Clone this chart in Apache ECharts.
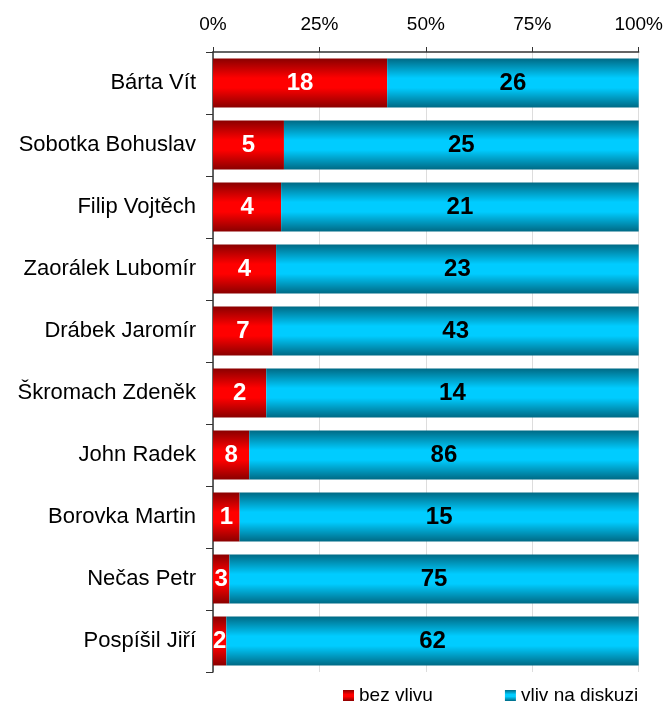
<!DOCTYPE html>
<html>
<head>
<meta charset="utf-8">
<script src="https://cdn.jsdelivr.net/npm/echarts@6/dist/echarts.min.js"></script>
<style>
  html, body { margin: 0; padding: 0; background: #fff; }
  #chart { width: 666px; height: 701px; }
</style>
</head>
<body>
<div id="chart"></div>
<script>
var categories = ['Bárta Vít', 'Sobotka Bohuslav', 'Filip Vojtěch', 'Zaorálek Lubomír', 'Drábek Jaromír',
  'Škromach Zdeněk', 'John Radek', 'Borovka Martin', 'Nečas Petr', 'Pospíšil Jiří']
var bezVlivu = [18, 5, 4, 4, 7, 2, 8, 1, 3, 2]
var vlivNaDiskuzi = [26, 25, 21, 23, 43, 14, 86, 15, 75, 62]
var tickLabels = ['0%', '25%', '50%', '75%', '100%']

// percent share of each row, the labels keep the raw counts
function share(arr) {
  return arr.map(function (v, i) {
    return { value: v / (bezVlivu[i] + vlivNaDiskuzi[i]) * 100, raw: v }
  })
}

function grad(edge, mid) {
  return new echarts.graphic.LinearGradient(0, 0, 0, 1, [
    { offset: 0, color: edge },
    { offset: 0.4, color: mid },
    { offset: 0.6, color: mid },
    { offset: 1, color: edge }
  ])
}

var chart = echarts.init(document.getElementById('chart'))
chart.setOption({
  animation: false,
  textStyle: { fontFamily: 'Liberation Sans, Arial, sans-serif' },
  grid: { left: 213, right: 26, top: 52, bottom: 29, containLabel: false },
  legend: {
    top: 681,
    left: 338,
    itemGap: 72,
    itemWidth: 11,
    itemHeight: 11,
    icon: 'rect',
    textStyle: { fontSize: 19, color: '#000' },
    data: ['bez vlivu', 'vliv na diskuzi']
  },
  xAxis: {
    type: 'value',
    position: 'top',
    min: 0,
    max: 100,
    interval: 25,
    axisLine: { show: true, lineStyle: { color: '#333', width: 1.5 } },
    axisTick: { show: true, length: 5, lineStyle: { color: '#333' } },
    splitLine: { show: true, lineStyle: { color: '#ddd' } },
    axisLabel: {
      fontSize: 19, color: '#000', margin: 18,
      formatter: function (v) { return tickLabels[v / 25] }
    }
  },
  yAxis: {
    type: 'category',
    inverse: true,
    data: categories,
    axisLine: { show: true, lineStyle: { color: '#333', width: 1.5 } },
    axisTick: { show: true, length: 7, lineStyle: { color: '#333' } },
    axisLabel: { fontSize: 22, color: '#000', margin: 17 }
  },
  series: [
    {
      name: 'bez vlivu',
      type: 'bar',
      stack: 'all',
      barCategoryGap: '21%',
      itemStyle: { color: grad('#8a0000', '#ff0000') },
      label: {
        show: true, position: 'inside', color: '#fff', fontSize: 24, fontWeight: 'bold',
        formatter: function (p) { return p.data.raw }
      },
      data: share(bezVlivu)
    },
    {
      name: 'vliv na diskuzi',
      type: 'bar',
      stack: 'all',
      itemStyle: { color: grad('#006a85', '#00ccff') },
      label: {
        show: true, position: 'inside', color: '#000', fontSize: 24, fontWeight: 'bold',
        formatter: function (p) { return p.data.raw }
      },
      data: share(vlivNaDiskuzi)
    }
  ]
})
</script>
</body>
</html>
